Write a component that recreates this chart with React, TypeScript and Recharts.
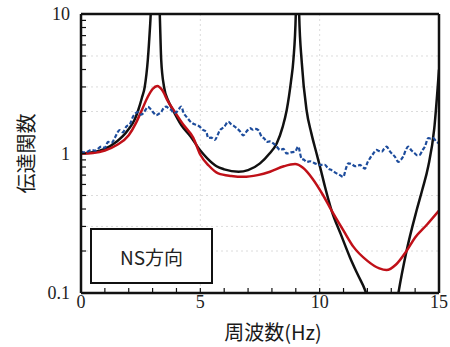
import { LineChart, Line, XAxis, YAxis, CartesianGrid } from 'recharts';

const freqTicks = [0, 1, 2, 3, 4, 5, 6, 7, 8, 9, 10, 11, 12, 13, 14, 15];
const gainTicks = [0.1, 0.2, 0.3, 0.4, 0.5, 0.6, 0.7, 0.8, 0.9, 1, 2, 3, 4, 5, 6, 7, 8, 9, 10];
const freqLabels = [0, 5, 10, 15];
const gainLabels = [0.1, 1, 10];
const gridFreqs = [5, 10];
const gridGains = [0.2, 0.3, 0.5, 2, 3, 5];

// theoretical transfer function (black) — peaks run off the top
const theoryCurve: [number, number][] = [
  [0, 1.0], [0.5, 1.02], [1.0, 1.08], [1.5, 1.22], [1.75, 1.33], [2.0, 1.5],
  [2.25, 1.75], [2.4, 2.05], [2.55, 2.5], [2.67, 3.0], [2.8, 4.7], [2.9, 8.5],
  [3.1, 40], [3.3, 10], [3.36, 4.7], [3.48, 3.0], [3.65, 2.4], [3.85, 2.05],
  [4.2, 1.6], [4.6, 1.32], [5.0, 1.05], [5.3, 0.92], [5.68, 0.81], [6.0, 0.77],
  [6.6, 0.74], [7.0, 0.76], [7.5, 0.85], [7.9, 1.0], [8.2, 1.18], [8.45, 1.55],
  [8.62, 2.05], [8.8, 3.3], [8.9, 4.7], [9.0, 10], [9.07, 40], [9.14, 10],
  [9.25, 4.5], [9.45, 2.05], [9.65, 1.4], [9.87, 1.0], [10.05, 0.76], [10.22, 0.58],
  [10.5, 0.39], [10.9, 0.26], [11.27, 0.18], [11.6, 0.135], [11.9, 0.105], [12.3, 0.06],
  [12.7, 0.03], [13.1, 0.06], [13.3, 0.1], [13.64, 0.2], [14.06, 0.39], [14.3, 0.55],
  [14.55, 0.81], [14.8, 1.5], [15, 4.0],
];

// model (red)
const modelCurve: [number, number][] = [
  [0, 1.0], [0.5, 1.01], [1.0, 1.05], [1.5, 1.15], [2.0, 1.35], [2.3, 1.65],
  [2.55, 2.05], [2.8, 2.55], [3.0, 2.9], [3.2, 3.05], [3.4, 2.85], [3.65, 2.35],
  [3.92, 2.0], [4.3, 1.6], [4.7, 1.3], [5.0, 0.98], [5.35, 0.82], [5.75, 0.72],
  [6.3, 0.69], [6.8, 0.68], [7.4, 0.7], [7.92, 0.74], [8.5, 0.81], [8.97, 0.84],
  [9.3, 0.79], [9.7, 0.66], [10.15, 0.5], [10.43, 0.41], [11.0, 0.28], [11.41, 0.215],
  [12.0, 0.17], [12.5, 0.15], [12.8, 0.146], [13.2, 0.16], [13.64, 0.2], [14.0, 0.25],
  [14.5, 0.31], [15, 0.39],
];

// observed (blue dashed)
const observedCurve: [number, number][] = [
  [0.0, 1.03], [0.2, 1.02], [0.43, 1.06], [0.6, 1.05], [0.85, 1.12], [1.0, 1.1],
  [1.13, 1.21], [1.3, 1.2], [1.41, 1.29], [1.62, 1.47], [1.75, 1.42], [1.9, 1.56],
  [2.05, 1.62], [2.18, 1.84], [2.39, 1.98], [2.5, 1.9], [2.6, 1.94], [2.7, 2.05],
  [2.8, 2.16], [2.95, 2.05], [3.05, 1.95], [3.15, 1.88], [3.25, 1.92], [3.36, 1.98],
  [3.45, 2.1], [3.57, 2.17], [3.68, 2.1], [3.78, 2.05], [3.9, 1.95], [4.0, 1.98],
  [4.1, 2.08], [4.2, 2.17], [4.3, 1.95], [4.41, 1.84], [4.55, 1.72], [4.69, 1.64],
  [4.85, 1.6], [4.97, 1.56], [5.1, 1.48], [5.25, 1.43], [5.33, 1.29], [5.45, 1.3],
  [5.61, 1.25], [5.72, 1.35], [5.82, 1.47], [6.0, 1.55], [6.17, 1.69], [6.3, 1.62],
  [6.4, 1.58], [6.52, 1.52], [6.65, 1.45], [6.8, 1.35], [6.95, 1.45], [7.08, 1.52],
  [7.2, 1.48], [7.3, 1.5], [7.43, 1.47], [7.57, 1.32], [7.68, 1.28], [7.78, 1.21],
  [7.9, 1.22], [8.06, 1.18], [8.2, 1.12], [8.34, 1.06], [8.48, 1.08], [8.62, 1.0],
  [8.8, 1.02], [8.97, 1.03], [9.1, 1.12], [9.24, 0.92], [9.35, 0.9], [9.45, 0.87],
  [9.6, 0.88], [9.8, 0.85], [10.0, 0.83], [10.22, 0.83], [10.36, 0.78], [10.5, 0.76],
  [10.71, 0.72], [10.85, 0.7], [10.99, 0.68], [11.1, 0.78], [11.2, 0.85], [11.35, 0.84],
  [11.48, 0.81], [11.62, 0.82], [11.69, 0.83], [11.8, 0.8], [11.9, 0.78], [12.0, 0.86],
  [12.1, 0.92], [12.25, 1.0], [12.38, 1.06], [12.5, 1.04], [12.6, 1.03], [12.7, 1.08],
  [12.81, 1.12], [12.92, 1.05], [13.02, 1.0], [13.15, 0.95], [13.3, 0.87], [13.4, 0.9],
  [13.5, 0.95], [13.6, 1.05], [13.71, 1.12], [13.85, 1.05], [13.99, 1.0], [14.1, 0.97],
  [14.2, 0.98], [14.3, 1.05], [14.41, 1.12], [14.55, 1.29], [14.65, 1.28], [14.76, 1.29],
  [14.88, 1.22], [15.0, 1.18],
];

const toPoints = (pairs: [number, number][]) => pairs.map(([f, g]) => ({ f, g }));

const serif = '"Liberation Serif", "Times New Roman", serif';
const cjk = '"Noto Sans CJK JP", "Noto Sans", sans-serif';
const frame = { stroke: '#111', strokeWidth: 2.5 };
const tickMark = { stroke: '#111', strokeWidth: 1.2 };

function YTitle({ viewBox }: any) {
  const cx = viewBox.x + 25;
  const cy = viewBox.y + viewBox.height / 2;
  return (
    <text
      x={cx}
      y={cy}
      transform={`rotate(-90, ${cx}, ${cy})`}
      textAnchor="middle"
      dominantBaseline="central"
      fontFamily={cjk}
      fontSize={20}
      fill="#1a1a1a"
    >
      伝達関数
    </text>
  );
}

function XTitle({ viewBox }: any) {
  return (
    <text
      x={viewBox.x + viewBox.width / 2 + 13}
      y={viewBox.y + 47}
      textAnchor="middle"
      fontFamily={cjk}
      fontSize={20}
      fill="#1a1a1a"
    >
      周波数(Hz)
    </text>
  );
}

export default function App() {
  return (
    <div style={{ position: 'absolute', left: 0, top: 0, width: 450, height: 347, background: '#fff' }}>
      <LineChart width={450} height={347} margin={{ top: 13, right: 10, left: 0, bottom: 0 }}>
        <CartesianGrid
          horizontalValues={gridGains}
          verticalValues={gridFreqs}
          stroke="#dcdcdc"
          strokeDasharray="2 3"
        />
        <XAxis
          dataKey="f"
          type="number"
          domain={[0, 15]}
          allowDataOverflow
          ticks={freqTicks}
          interval={0}
          tickSize={-5}
          tickMargin={7}
          height={54}
          axisLine={frame}
          tickLine={tickMark}
          tickFormatter={(v: number) => (freqLabels.includes(v) ? String(v) : '')}
          tick={{ fill: '#222', fontSize: 18, fontFamily: serif }}
          label={<XTitle />}
        />
        <XAxis
          xAxisId="top"
          orientation="top"
          type="number"
          domain={[0, 15]}
          ticks={freqTicks}
          interval={0}
          tickSize={-5}
          height={1}
          axisLine={frame}
          tickLine={tickMark}
          tick={false}
        />
        <YAxis
          scale="log"
          type="number"
          domain={[0.1, 10]}
          allowDataOverflow
          ticks={gainTicks}
          interval={0}
          tickSize={-5}
          tickMargin={16}
          width={81}
          axisLine={frame}
          tickLine={tickMark}
          tickFormatter={(v: number) => (gainLabels.includes(v) ? String(v) : '')}
          tick={{ fill: '#222', fontSize: 18, fontFamily: serif }}
          label={<YTitle />}
        />
        <YAxis
          yAxisId="right"
          orientation="right"
          scale="log"
          type="number"
          domain={[0.1, 10]}
          allowDataOverflow
          ticks={gainTicks}
          interval={0}
          tickSize={-5}
          width={1}
          axisLine={frame}
          tickLine={tickMark}
          tick={false}
        />
        <Line
          data={toPoints(theoryCurve)}
          dataKey="g"
          type="monotone"
          stroke="#111"
          strokeWidth={2.5}
          dot={false}
          isAnimationActive={false}
        />
        <Line
          data={toPoints(modelCurve)}
          dataKey="g"
          type="monotone"
          stroke="#c01018"
          strokeWidth={2.5}
          dot={false}
          isAnimationActive={false}
        />
        <Line
          data={toPoints(observedCurve)}
          dataKey="g"
          type="monotone"
          stroke="#1d4c9c"
          strokeWidth={2.2}
          strokeDasharray="4 2"
          dot={false}
          isAnimationActive={false}
        />
      </LineChart>
      <div
        style={{
          position: 'absolute',
          left: 90,
          top: 228,
          width: 119,
          height: 52,
          border: '2px solid #111',
          background: '#fff',
          display: 'flex',
          alignItems: 'center',
          justifyContent: 'center',
          fontFamily: cjk,
          fontSize: 19,
          color: '#222',
        }}
      >
        NS方向
      </div>
    </div>
  );
}
